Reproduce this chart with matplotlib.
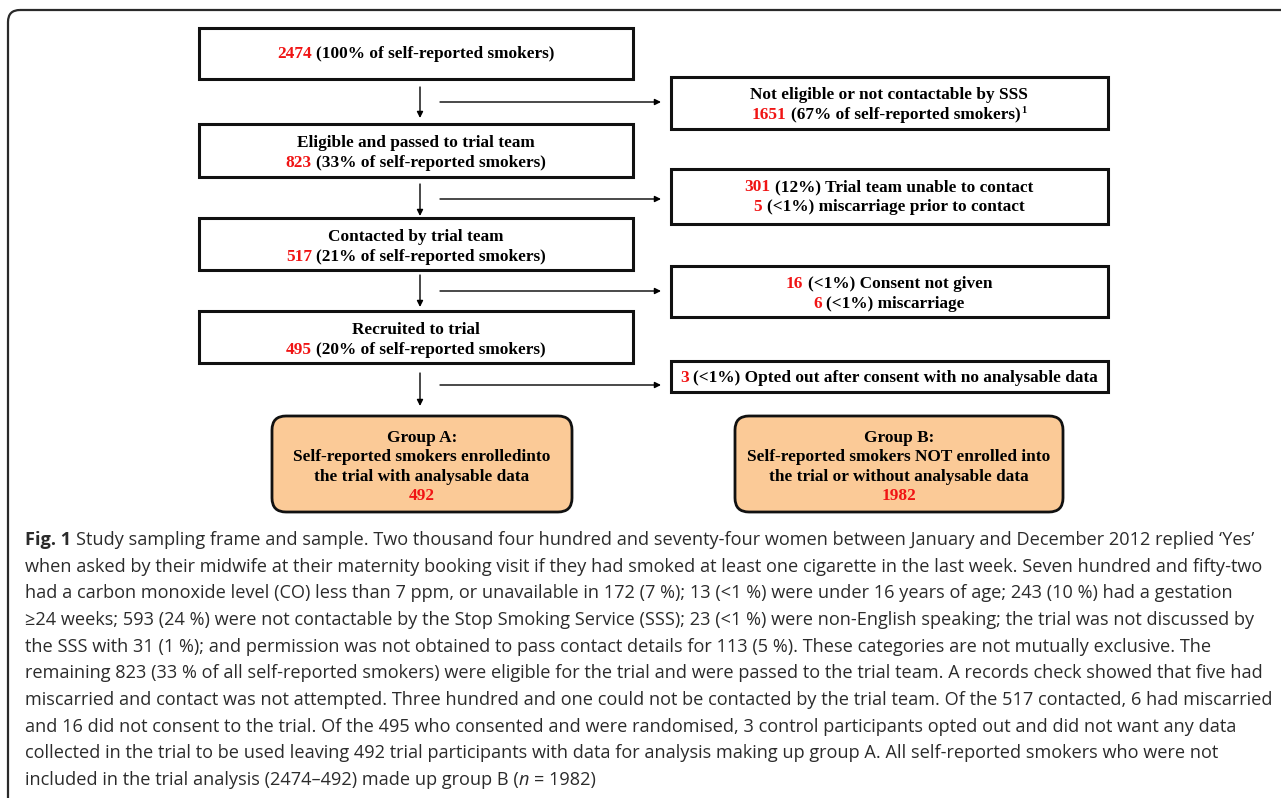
import matplotlib
matplotlib.use('Agg')
import matplotlib.pyplot as plt
from matplotlib.patches import Rectangle, FancyBboxPatch

##############
# data read off the flowchart
main_counts = [2474, 823, 517, 495]
main_pcts = ['100', '33', '21', '20']
main_titles = ['', 'Eligible and passed to trial team', 'Contacted by trial team', 'Recruited to trial']

side_counts = [[1651], [301, 5], [16, 6], [3]]
side_texts = [['(67% of self-reported smokers)'],
              ['(12%) Trial team unable to contact', '(<1%) miscarriage prior to contact'],
              ['(<1%) Consent not given', '(<1%) miscarriage'],
              ['(<1%) Opted out after consent with no analysable data']]
side_titles = ['Not eligible or not contactable by SSS', '', '', '']

group_labels = ['Group A:', 'Group B:']
group_lines = [['Self-reported smokers enrolledinto', 'the trial with analysable data'],
               ['Self-reported smokers NOT enrolled into', 'the trial or without analysable data']]
group_counts = [492, 1982]

caption = [
    'Study sampling frame and sample. Two thousand four hundred and seventy-four women between January and December 2012 replied \u2018Yes\u2019',
    'when asked by their midwife at their maternity booking visit if they had smoked at least one cigarette in the last week. Seven hundred and fifty-two',
    'had a carbon monoxide level (CO) less than 7 ppm, or unavailable in 172 (7 %); 13 (<1 %) were under 16 years of age; 243 (10 %) had a gestation',
    '\u226524 weeks; 593 (24 %) were not contactable by the Stop Smoking Service (SSS); 23 (<1 %) were non-English speaking; the trial was not discussed by',
    'the SSS with 31 (1 %); and permission was not obtained to pass contact details for 113 (5 %). These categories are not mutually exclusive. The',
    'remaining 823 (33 % of all self-reported smokers) were eligible for the trial and were passed to the trial team. A records check showed that five had',
    'miscarried and contact was not attempted. Three hundred and one could not be contacted by the trial team. Of the 517 contacted, 6 had miscarried',
    'and 16 did not consent to the trial. Of the 495 who consented and were randomised, 3 control participants opted out and did not want any data',
    'collected in the trial to be used leaving 492 trial participants with data for analysis making up group A. All self-reported smokers who were not',
    'included in the trial analysis (2474\u2013492) made up group B (',
]
##############

RED = '#f01414'
SERIF = 'Liberation Serif'
SANS = 'Open Sans'
CAPC = '#2b2b2b'
BOX_SIZE = 12.4

fig = plt.figure(figsize=(12.81, 7.98), dpi=100)
ax = fig.add_axes([0, 0, 1, 1])
ax.set_xlim(0, 1281)
ax.set_ylim(798, 0)
ax.axis('off')
r = fig.canvas.get_renderer()


def width_of(s, **kw):
    t = ax.text(0, 0, s, **kw)
    w = t.get_window_extent(renderer=r).width
    t.remove()
    return w


def put(x, y, parts, ha='center', size=BOX_SIZE, family=SERIF, weight='bold', color='k'):
    # parts: list of (text, options); draws pieces side by side on one baseline
    texts = []
    for s, o in parts:
        kw = dict(fontsize=o.get('size', size), family=family,
                  fontweight=o.get('weight', weight), style=o.get('style', 'normal'),
                  color=o.get('color', color))
        t = ax.text(0, y + o.get('dy', 0), s, ha='left', va='baseline', **kw)
        texts.append((t, o, kw))
    sp = width_of('a a', fontsize=size, family=family, fontweight=weight) - \
        width_of('aa', fontsize=size, family=family, fontweight=weight)
    widths = [t.get_window_extent(renderer=r).width for t, o, kw in texts]
    gaps = [0] + [sp if o.get('gap', True) else o.get('pad', 0) for t, o, kw in texts[1:]]
    total = sum(widths) + sum(gaps)
    cur = x - total / 2 if ha == 'center' else x
    for (t, o, kw), w, g in zip(texts, widths, gaps):
        cur += g
        t.set_x(cur)
        cur += w


def box(x0, y0, x1, y1):
    ax.add_patch(Rectangle((x0, y0), x1 - x0, y1 - y0, fill=False, ec='#111111', lw=2.2))


def arrow(x0, y0, x1, y1):
    ax.annotate('', xy=(x1, y1), xytext=(x0, y0),
                arrowprops=dict(arrowstyle='-|>', color='k', lw=1.0, mutation_scale=9,
                                shrinkA=0, shrinkB=0))


# outer frame
ax.add_patch(FancyBboxPatch((8, 10), 1320, 820, boxstyle='round,pad=0,rounding_size=12',
                            fill=False, ec='#2a2a2a', lw=1.6, clip_on=False))

# main column
main_y = [(28, 79), (124, 177), (218, 270), (311, 363)]
for i in range(4):
    y0, y1 = main_y[i]
    box(199, y0, 633, y1)
    num = [(str(main_counts[i]), {'color': RED}),
           ('(' + main_pcts[i] + '% of self-reported smokers)', {})]
    if main_titles[i]:
        put(416, y0 + 23, [(main_titles[i], {})])
        put(416, y0 + 43, num)
    else:
        put(416, y0 + 30, num)

# arrows
arr_y = [(87, 118), (184, 216), (275, 307), (373, 406)]
side_arr_y = [102, 199, 291, 385]
for i in range(4):
    arrow(420, arr_y[i][0], 420, arr_y[i][1])
    arrow(440, side_arr_y[i], 661, side_arr_y[i])

# side boxes
side_y = [(77, 129), (169, 224), (266, 317), (361, 392)]
for i in range(4):
    y0, y1 = side_y[i]
    box(671, y0, 1108, y1)
    lines = []
    if side_titles[i]:
        lines.append([(side_titles[i], {})])
    for c, s in zip(side_counts[i], side_texts[i]):
        lines.append([(str(c), {'color': RED}), (s, {})])
    if i == 0:
        lines[1].append(('1', {'size': 7.5, 'dy': -6, 'gap': False}))
    if len(lines) == 2:
        put(889, y0 + 22, lines[0])
        put(889, y0 + 42, lines[1])
    else:
        put(889, y0 + 21, lines[0])

# group boxes
grp_x = [(272, 572), (735, 1063)]
for i in range(2):
    x0, x1 = grp_x[i]
    ax.add_patch(FancyBboxPatch((x0, 416), x1 - x0, 96, boxstyle='round,pad=0,rounding_size=14',
                                fc='#fbca97', ec='#111111', lw=2.0))
    xc = (x0 + x1) / 2
    put(xc, 442, [(group_labels[i], {})])
    put(xc, 461, [(group_lines[i][0], {})])
    put(xc, 481, [(group_lines[i][1], {})])
    put(xc, 500, [(str(group_counts[i]), {'color': RED})])

# caption
cap_size = 13.05
for k, line in enumerate(caption):
    yb = 545 + k * 26.67
    if k == 0:
        parts = [('Fig. 1', {'weight': 'bold'}), (line, {})]
    elif k == len(caption) - 1:
        parts = [(line, {}), ('n', {'style': 'italic', 'gap': False}),
                 ('= 1982)', {})]
    else:
        parts = [(line, {})]
    put(25, yb, parts, ha='left', size=cap_size, family=SANS, weight='normal', color=CAPC)

plt.savefig('out.png', dpi=100)
